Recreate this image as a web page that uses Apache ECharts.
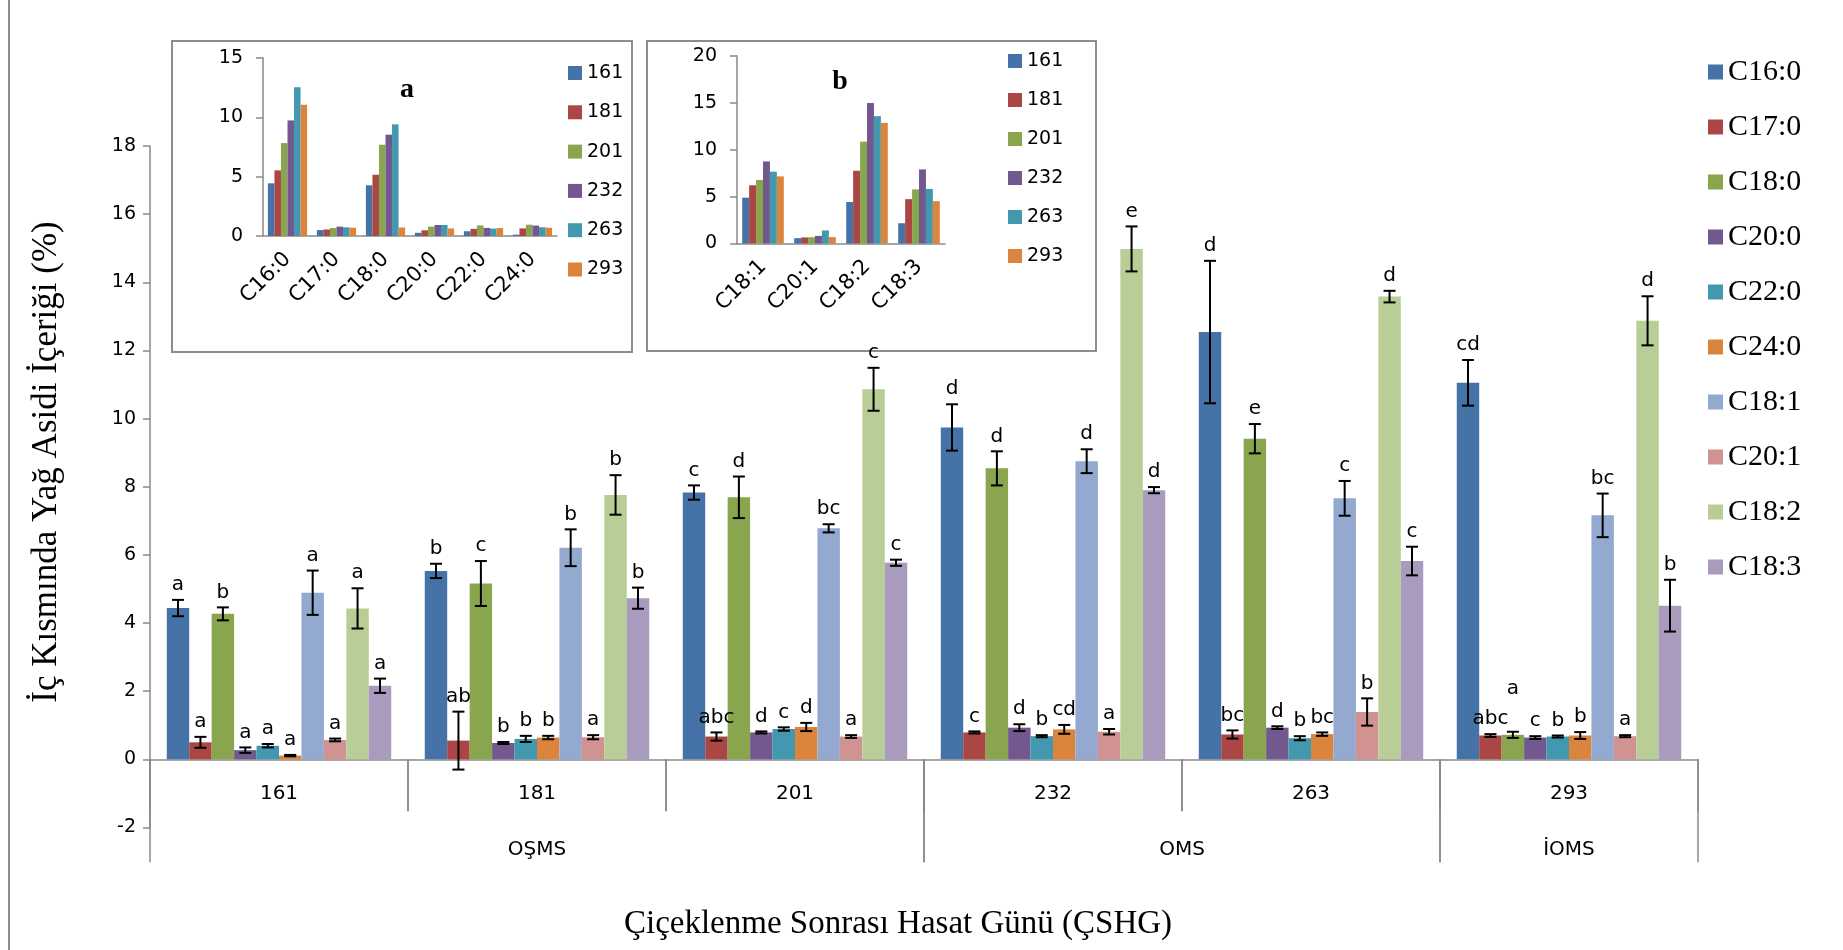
<!DOCTYPE html>
<html>
<head>
<meta charset="utf-8">
<script src="https://cdn.jsdelivr.net/npm/echarts@6/dist/echarts.min.js"></script>
<style>
  html, body { margin: 0; padding: 0; background: #ffffff; }
  #chart { width: 1843px; height: 950px; }
</style>
</head>
<body>
<div id="chart"></div>
<script>
// Harvest days after flowering, grouped into maturity stages
const harvestDays = ['161', '181', '201', '232', '263', '293'];
const stageNames = ['OŞMS', 'OMS', 'İOMS'];
const stageDayCounts = [3, 2, 1];

const fattyAcids = ['C16:0', 'C17:0', 'C18:0', 'C20:0', 'C22:0', 'C24:0', 'C18:1', 'C20:1', 'C18:2', 'C18:3'];

// Mean content (%) per harvest day
const meanC16_0 = [4.44, 5.53, 7.83, 9.74, 12.54, 11.05];
const meanC17_0 = [0.50, 0.55, 0.67, 0.79, 0.73, 0.70];
const meanC18_0 = [4.27, 5.16, 7.69, 8.54, 9.41, 0.72];
const meanC20_0 = [0.27, 0.48, 0.79, 0.93, 0.93, 0.64];
const meanC22_0 = [0.40, 0.60, 0.89, 0.68, 0.62, 0.67];
const meanC24_0 = [0.11, 0.64, 0.95, 0.88, 0.74, 0.70];
const meanC18_1 = [4.89, 6.21, 6.78, 8.75, 7.66, 7.16];
const meanC20_1 = [0.57, 0.65, 0.67, 0.81, 1.39, 0.68];
const meanC18_2 = [4.43, 7.76, 10.86, 14.98, 13.58, 12.87];
const meanC18_3 = [2.16, 4.73, 5.77, 7.90, 5.82, 4.51];

// Standard deviations
const sdC16_0 = [0.24, 0.21, 0.21, 0.68, 2.09, 0.67];
const sdC17_0 = [0.16, 0.85, 0.12, 0.03, 0.12, 0.04];
const sdC18_0 = [0.19, 0.66, 0.61, 0.50, 0.43, 0.09];
const sdC20_0 = [0.08, 0.03, 0.03, 0.10, 0.04, 0.04];
const sdC22_0 = [0.05, 0.09, 0.05, 0.03, 0.06, 0.03];
const sdC24_0 = [0.02, 0.05, 0.12, 0.13, 0.05, 0.10];
const sdC18_1 = [0.65, 0.54, 0.12, 0.35, 0.51, 0.64];
const sdC20_1 = [0.04, 0.06, 0.04, 0.08, 0.40, 0.03];
const sdC18_2 = [0.59, 0.58, 0.63, 0.66, 0.17, 0.72];
const sdC18_3 = [0.21, 0.31, 0.09, 0.09, 0.42, 0.76];

// Significance letters
const letC16_0 = ['a', 'b', 'c', 'd', 'd', 'cd'];
const letC17_0 = ['a', 'ab', 'abc', 'c', 'bc', 'abc'];
const letC18_0 = ['b', 'c', 'd', 'd', 'e', 'a'];
const letC20_0 = ['a', 'b', 'd', 'd', 'd', 'c'];
const letC22_0 = ['a', 'b', 'c', 'b', 'b', 'b'];
const letC24_0 = ['a', 'b', 'd', 'cd', 'bc', 'b'];
const letC18_1 = ['a', 'b', 'bc', 'd', 'c', 'bc'];
const letC20_1 = ['a', 'a', 'a', 'a', 'b', 'a'];
const letC18_2 = ['a', 'b', 'c', 'e', 'd', 'd'];
const letC18_3 = ['a', 'b', 'c', 'd', 'c', 'b'];

const means = [meanC16_0, meanC17_0, meanC18_0, meanC20_0, meanC22_0, meanC24_0, meanC18_1, meanC20_1, meanC18_2, meanC18_3];
const sds = [sdC16_0, sdC17_0, sdC18_0, sdC20_0, sdC22_0, sdC24_0, sdC18_1, sdC20_1, sdC18_2, sdC18_3];
const letters = [letC16_0, letC17_0, letC18_0, letC20_0, letC22_0, letC24_0, letC18_1, letC20_1, letC18_2, letC18_3];

const acidColors = ['#4572A7', '#AA4643', '#89A54E', '#71588F', '#4198AF', '#DB843D', '#93A9CF', '#D19392', '#B9CD96', '#A99BBD'];
const dayColors = ['#4572A7', '#AA4643', '#89A54E', '#71588F', '#4198AF', '#DB843D'];

const saturatedIdx = [0, 1, 2, 3, 4, 5];
const unsaturatedIdx = [6, 7, 8, 9];

const AXIS = '#898989';
const SANS = 'DejaVu Sans';
const SERIF = 'Liberation Serif';
const GAP = 0.13;
const N = fattyAcids.length;
const LETTER_W = 12.5;

// Main grouped bars
const mainBars = fattyAcids.map((name, i) => ({
  type: 'bar', name, xAxisIndex: 0, yAxisIndex: 0,
  data: means[i], barGap: '0%', barCategoryGap: (GAP * 100) + '%',
  itemStyle: { color: acidColors[i] }, z: 2
}));

// Error bars and letters
const errData = [];
harvestDays.forEach((d, g) => fattyAcids.forEach((a, i) => errData.push([g, means[i][g] + sds[i][g], i])));

function letterBottoms(g, api, bw) {
  const out = [];
  for (let j = 0; j < N; j++) {
    let y = api.coord([g, means[j][g] + sds[j][g]])[1] - 5;
    if (j > 0) {
      const w0 = letters[j - 1][g].length * LETTER_W;
      const w1 = letters[j][g].length * LETTER_W;
      if ((w0 + w1) / 2 > bw && Math.abs(y - out[j - 1]) < 22) y = out[j - 1] - 30;
    }
    out.push(y);
  }
  return out;
}

function renderError(params, api) {
  const g = api.value(0), i = api.value(2);
  const m = means[i][g], s = sds[i][g];
  const band = api.size([1, 0])[0];
  const total = band * (1 - GAP);
  const bw = total / N;
  const cx = api.coord([g, 0])[0] - total / 2 + (i + 0.5) * bw;
  const yTop = api.coord([g, m + s])[1];
  const yBot = api.coord([g, m - s])[1];
  const cap = 6;
  const ly = letterBottoms(g, api, bw)[i];
  const ls = { stroke: '#000', lineWidth: 2 };
  return {
    type: 'group',
    children: [
      { type: 'line', shape: { x1: cx, y1: yTop, x2: cx, y2: yBot }, style: ls },
      { type: 'line', shape: { x1: cx - cap, y1: yTop, x2: cx + cap, y2: yTop }, style: ls },
      { type: 'line', shape: { x1: cx - cap, y1: yBot, x2: cx + cap, y2: yBot }, style: ls },
      { type: 'text', style: { text: letters[i][g], x: cx, y: ly, align: 'center', verticalAlign: 'bottom',
          textAlign: 'center', textVerticalAlign: 'bottom', fontSize: 20, fontFamily: SANS, fill: '#000' } }
    ]
  };
}

// Day spans (short separators + day names) and maturity stage spans (long separators + names)
const daySpans = harvestDays.map((d, g) => [g, g + 1, 0]);
const stageSpans = [];
(function () { let acc = 0; stageDayCounts.forEach(c => { stageSpans.push([acc, acc + c, 0]); acc += c; }); })();

function spanRenderer(names, lineLen, textOffset) {
  return function (params, api) {
    const p0 = api.coord([api.value(0), 0]);
    const p1 = api.coord([api.value(1), 0]);
    const y0 = p0[1];
    const ls = { stroke: AXIS, lineWidth: 1.5 };
    return {
      type: 'group',
      children: [
        { type: 'line', shape: { x1: p0[0], y1: y0, x2: p0[0], y2: y0 + lineLen }, style: ls },
        { type: 'line', shape: { x1: p1[0], y1: y0, x2: p1[0], y2: y0 + lineLen }, style: ls },
        { type: 'text', style: { text: names[params.dataIndex], x: (p0[0] + p1[0]) / 2, y: y0 + textOffset,
            align: 'center', verticalAlign: 'middle', textAlign: 'center', textVerticalAlign: 'middle',
            fontSize: 20, fontFamily: SANS, fill: '#000' } }
      ]
    };
  };
}

// Inset series: one per harvest day
const insetSat = harvestDays.map((d, g) => ({
  type: 'bar', name: d, xAxisIndex: 2, yAxisIndex: 1,
  data: saturatedIdx.map(k => means[k][g]), barGap: '0%', barCategoryGap: '20%',
  itemStyle: { color: dayColors[g] }
}));
const insetUnsat = harvestDays.map((d, g) => ({
  type: 'bar', name: d, xAxisIndex: 3, yAxisIndex: 2,
  data: unsaturatedIdx.map(k => means[k][g]), barGap: '0%', barCategoryGap: '20%',
  itemStyle: { color: dayColors[g] }
}));

function insetX(gridIndex, names) {
  return {
    type: 'category', gridIndex, data: names,
    axisLine: { lineStyle: { color: AXIS, width: 1.5 } },
    axisTick: { length: 7, interval: 0, lineStyle: { color: AXIS, width: 1.5 } },
    axisLabel: { rotate: 45, interval: 0, margin: 20, fontFamily: SANS, fontSize: 21, color: '#000' },
    splitLine: { show: false }
  };
}
function insetY(gridIndex, max) {
  return {
    type: 'value', gridIndex, min: 0, max, interval: 5,
    axisLine: { show: true, onZero: false, lineStyle: { color: AXIS, width: 1.5 } },
    axisTick: { show: true, length: 7, lineStyle: { color: AXIS, width: 1.5 } },
    axisLabel: { margin: 20, fontFamily: SANS, fontSize: 19, color: '#000' },
    splitLine: { show: false }
  };
}

const option = {
  animation: false,
  backgroundColor: '#ffffff',
  grid: [
    { left: 150, top: 146, width: 1548, height: 681.5 },
    { left: 263, top: 58, width: 294, height: 178 },
    { left: 737, top: 56, width: 208, height: 187.5 }
  ],
  xAxis: [
    {
      type: 'category', gridIndex: 0, data: harvestDays,
      axisLine: { onZero: true, lineStyle: { color: AXIS, width: 1.5 } },
      axisTick: { show: false },
      axisLabel: { show: false },
      splitLine: { show: false }
    },
    { type: 'value', gridIndex: 0, min: 0, max: 6, show: false, position: 'top' },
    insetX(1, saturatedIdx.map(k => fattyAcids[k])),
    insetX(2, unsaturatedIdx.map(k => fattyAcids[k]))
  ],
  yAxis: [
    {
      type: 'value', gridIndex: 0, min: -2, max: 18, interval: 2,
      axisLine: { show: true, onZero: false, lineStyle: { color: AXIS, width: 1.5 } },
      axisTick: { show: true, length: 7, lineStyle: { color: AXIS, width: 1.5 } },
      axisLabel: { margin: 14, fontFamily: SANS, fontSize: 19, color: '#000' },
      splitLine: { show: false }
    },
    insetY(1, 15),
    insetY(2, 20)
  ],
  legend: [
    {
      data: fattyAcids, orient: 'vertical', left: 1708, top: 57, padding: 0,
      itemWidth: 15, itemHeight: 15, itemGap: 25, icon: 'rect', selectedMode: false,
      textStyle: { fontFamily: SERIF, fontSize: 30, lineHeight: 30, color: '#000' }
    },
    {
      data: harvestDays, orient: 'vertical', left: 568, top: 63, padding: 0,
      itemWidth: 14, itemHeight: 14, itemGap: 19.3, icon: 'rect', selectedMode: false,
      textStyle: { fontFamily: SANS, fontSize: 19, lineHeight: 20, color: '#000' }
    },
    {
      data: harvestDays, orient: 'vertical', left: 1008, top: 51, padding: 0,
      itemWidth: 14, itemHeight: 14, itemGap: 19, icon: 'rect', selectedMode: false,
      textStyle: { fontFamily: SANS, fontSize: 19, lineHeight: 20, color: '#000' }
    }
  ],
  graphic: [
    { type: 'line', shape: { x1: 9, y1: 0, x2: 9, y2: 950 }, style: { stroke: '#8c8c8c', lineWidth: 2 } },
    { type: 'rect', shape: { x: 172, y: 41, width: 460, height: 311 }, style: { fill: null, stroke: '#8c8c8c', lineWidth: 2 } },
    { type: 'rect', shape: { x: 647, y: 41, width: 449, height: 310 }, style: { fill: null, stroke: '#8c8c8c', lineWidth: 2 } },
    { type: 'text', x: 407, y: 90, style: { text: 'a', font: 'bold 28px "Liberation Serif"', fill: '#000', align: 'center', verticalAlign: 'middle' } },
    { type: 'text', x: 840, y: 82, style: { text: 'b', font: 'bold 28px "Liberation Serif"', fill: '#000', align: 'center', verticalAlign: 'middle' } },
    { type: 'text', x: 47, y: 462, rotation: Math.PI / 2,
      style: { text: 'İç Kısmında Yağ Asidi İçeriği (%)', font: '35px "Liberation Serif"', fill: '#000', align: 'center', verticalAlign: 'middle' } },
    { type: 'text', x: 898, y: 924,
      style: { text: 'Çiçeklenme Sonrası Hasat Günü (ÇSHG)', font: '33px "Liberation Serif"', fill: '#000', align: 'center', verticalAlign: 'middle' } }
  ],
  series: [
    ...mainBars,
    {
      type: 'custom', name: 'errors', xAxisIndex: 0, yAxisIndex: 0,
      data: errData, encode: { x: 0, y: 1 }, renderItem: renderError, clip: false, z: 5, silent: true
    },
    {
      type: 'custom', name: 'days', xAxisIndex: 1, yAxisIndex: 0,
      data: daySpans, encode: { x: [0, 1], y: 2 }, renderItem: spanRenderer(harvestDays, 52, 34), clip: false, z: 5, silent: true
    },
    {
      type: 'custom', name: 'stages', xAxisIndex: 1, yAxisIndex: 0,
      data: stageSpans, encode: { x: [0, 1], y: 2 }, renderItem: spanRenderer(stageNames, 103, 90), clip: false, z: 5, silent: true
    },
    ...insetSat,
    ...insetUnsat
  ]
};

const chart = echarts.init(document.getElementById('chart'));
chart.setOption(option);
</script>
</body>
</html>
